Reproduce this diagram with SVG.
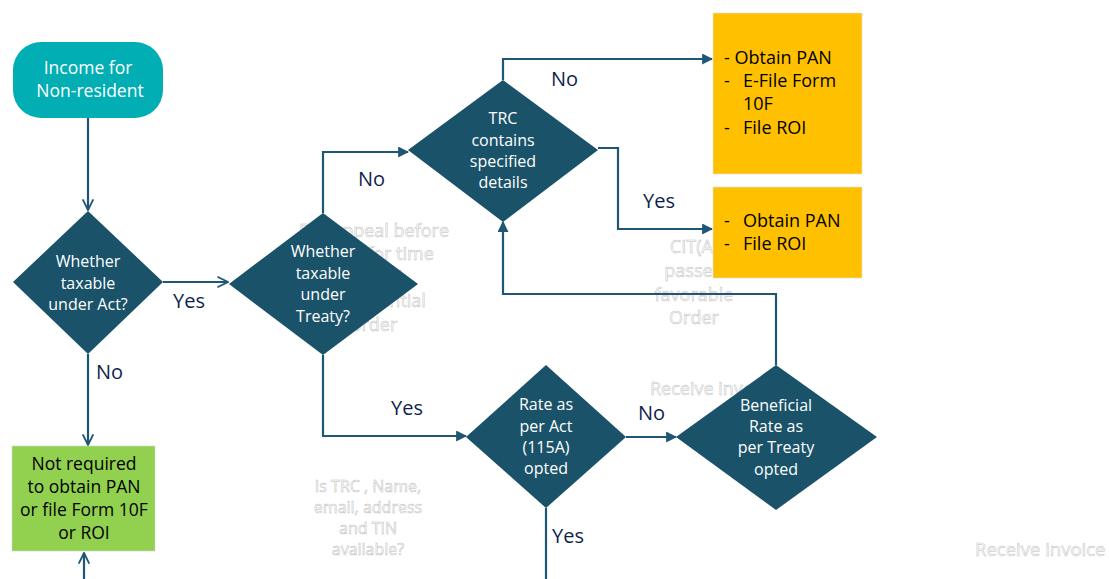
<svg xmlns="http://www.w3.org/2000/svg" width="1109" height="579" viewBox="0 0 1109 579">
<style>
text{font-family:"Open Sans","Liberation Sans",sans-serif}
.dia{fill:#1A5269}
.wt{fill:#ffffff;font-size:16px;text-anchor:middle}
.lbl{fill:#0F1F4E;font-size:20px}
.bk{fill:#000000;font-size:17.5px}
.ghost{fill:#ffffff;stroke:#bdbdbd;stroke-width:0.5;font-size:18px;text-anchor:middle}
.c{fill:none;stroke:#1F5673;stroke-width:2.2}
</style>
<defs>
<marker id="tri" viewBox="0 0 10 10" refX="9" refY="5" markerWidth="5" markerHeight="5" orient="auto" markerUnits="strokeWidth">
<path d="M0,0 L10,5 L0,10 z" fill="#1F5673"/>
</marker>
<marker id="vee" viewBox="0 0 10 10" refX="9" refY="5" markerWidth="6" markerHeight="6" orient="auto" markerUnits="strokeWidth">
<path d="M1,1 L9,5 L1,9" fill="none" stroke="#1F5673" stroke-width="1.4"/>
</marker>
</defs>
<rect width="1109" height="579" fill="#ffffff"/>

<g id="ghost-texts">
<text class="ghost" x="374" y="237">File appeal before</text>
<text class="ghost" x="374" y="260">CIT(A) for time</text>
<text class="ghost" x="374" y="284">barred</text>
<text class="ghost" x="374" y="307">for potential</text>
<text class="ghost" x="374" y="331">order</text>
<text class="ghost" x="694" y="253">CIT(A)</text>
<text class="ghost" x="694" y="277">passed</text>
<text class="ghost" x="694" y="301">favorable</text>
<text class="ghost" x="694" y="324">Order</text>
<text class="ghost" x="650" y="395" style="text-anchor:start">Receive invoice</text>
<text class="ghost" x="368" y="492" style="font-size:16px">Is TRC , Name,</text>
<text class="ghost" x="368" y="513" style="font-size:16px">email, address</text>
<text class="ghost" x="368" y="534" style="font-size:16px">and TIN</text>
<text class="ghost" x="368" y="555" style="font-size:16px">available?</text>
<text class="ghost" x="975" y="556" style="text-anchor:start;font-size:18.5px">Receive invoice</text>
</g>

<g id="connectors">
<path class="c" d="M88,118 V210" marker-end="url(#vee)"/>
<path class="c" d="M163,282 H228" marker-end="url(#vee)"/>
<path class="c" d="M88,354 V445" marker-end="url(#vee)"/>
<path class="c" d="M84,579 V553" marker-end="url(#vee)"/>
<path class="c" d="M323,213 V152 H408" marker-end="url(#tri)"/>
<path class="c" d="M503,80 V59 H712" marker-end="url(#tri)"/>
<path class="c" d="M598,148 H618 V229 H712" marker-end="url(#tri)"/>
<path class="c" d="M323,355 V436 H466" marker-end="url(#tri)"/>
<path class="c" d="M626,437 H676" marker-end="url(#tri)"/>
<path class="c" d="M776,365 V294 H503 V222" marker-end="url(#tri)"/>
<path class="c" d="M546,508 V579"/>
<text class="lbl" x="173" y="308">Yes</text>
<text class="lbl" x="96" y="379">No</text>
<text class="lbl" x="358" y="186">No</text>
<text class="lbl" x="551" y="86">No</text>
<text class="lbl" x="643" y="208">Yes</text>
<text class="lbl" x="391" y="415">Yes</text>
<text class="lbl" x="638" y="420">No</text>
<text class="lbl" x="552" y="543">Yes</text>
</g>

<g id="start">
<rect x="13" y="42" width="150" height="76" rx="28" fill="#00AEB3"/>
<text class="wt" x="88" y="74" style="font-size:17.5px">Income for</text>
<text class="wt" x="90" y="97" style="font-size:17.5px">Non-resident</text>
</g>

<g id="d-act">
<polygon class="dia" points="88,211 163,282 88,354 13,282"/>
<text class="wt" x="88" y="267">Whether</text>
<text class="wt" x="88" y="289">taxable</text>
<text class="wt" x="88" y="310">under Act?</text>
</g>

<g id="not-required">
<rect x="12" y="446" width="143" height="105" fill="#92D050" stroke="#cfcfcf" stroke-width="0.6"/>
<text class="bk" x="84" y="470" text-anchor="middle">Not required</text>
<text class="bk" x="84" y="493" text-anchor="middle">to obtain PAN</text>
<text class="bk" x="84" y="516" text-anchor="middle">or file Form 10F</text>
<text class="bk" x="84" y="539" text-anchor="middle">or ROI</text>
</g>

<g id="d-treaty">
<polygon class="dia" points="323,213 418,284 323,355 229,284"/>
<text class="wt" x="323" y="257">Whether</text>
<text class="wt" x="323" y="279">taxable</text>
<text class="wt" x="323" y="300">under</text>
<text class="wt" x="323" y="322">Treaty?</text>
</g>

<g id="d-trc">
<polygon class="dia" points="503,80 598,150 503,222 408,150"/>
<text class="wt" x="503" y="124">TRC</text>
<text class="wt" x="503" y="146">contains</text>
<text class="wt" x="503" y="167">specified</text>
<text class="wt" x="503" y="188">details</text>
</g>

<g id="box-no">
<rect x="713" y="13" width="149" height="161" fill="#FFC000" stroke="#e2e2e2" stroke-width="0.6"/>
<text class="bk" x="724" y="64" style="font-size:18px">- Obtain PAN</text>
<text class="bk" x="724" y="87" style="font-size:18px">-</text>
<text class="bk" x="743" y="87" style="font-size:18px">E-File Form</text>
<text class="bk" x="743" y="110" style="font-size:18px">10F</text>
<text class="bk" x="724" y="134" style="font-size:18px">-</text>
<text class="bk" x="743" y="134" style="font-size:18px">File ROI</text>
</g>

<g id="box-yes">
<rect x="713" y="187" width="149" height="91" fill="#FFC000" stroke="#e2e2e2" stroke-width="0.6"/>
<text class="bk" x="724" y="227" style="font-size:18px">-</text>
<text class="bk" x="743" y="227" style="font-size:18px">Obtain PAN</text>
<text class="bk" x="724" y="250" style="font-size:18px">-</text>
<text class="bk" x="743" y="250" style="font-size:18px">File ROI</text>
</g>

<g id="d-rate-act">
<polygon class="dia" points="546,365 626,437 546,508 466,437"/>
<text class="wt" x="546" y="410">Rate as</text>
<text class="wt" x="546" y="432">per Act</text>
<text class="wt" x="546" y="453">(115A)</text>
<text class="wt" x="546" y="474">opted</text>
</g>

<g id="d-beneficial">
<polygon class="dia" points="776,365 877,437 776,510 676,437"/>
<text class="wt" x="776" y="411">Beneficial</text>
<text class="wt" x="776" y="432">Rate as</text>
<text class="wt" x="776" y="453">per Treaty</text>
<text class="wt" x="776" y="475">opted</text>
</g>
</svg>
